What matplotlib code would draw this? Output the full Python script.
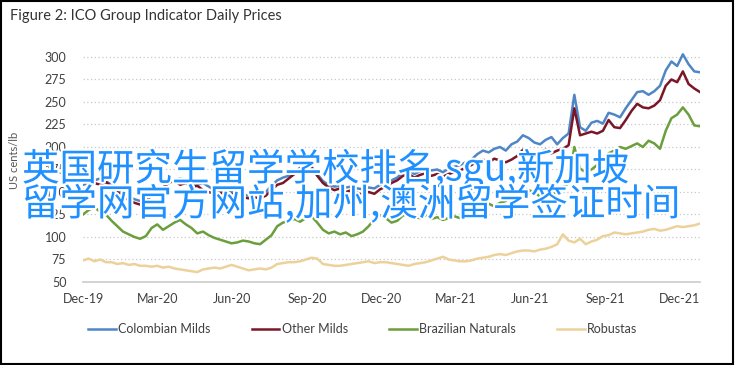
import matplotlib
matplotlib.use("Agg")
import matplotlib.pyplot as plt
import matplotlib.dates as mdates
import matplotlib.patheffects as pe
from matplotlib.patches import Rectangle
import pandas as pd

# weekly readings, Dec-2019 .. Dec-2021 (US cents/lb)
colombian = [158, 160, 163, 165, 162, 158, 152, 148, 145, 142,
             140, 143, 148, 150, 155, 160, 163, 165, 162, 160,
             158, 160, 156, 152, 152, 150, 150, 148, 147, 146,
             148, 147, 150, 157, 163, 166, 168, 172, 177, 180,
             178, 170, 162, 158, 156, 157, 155, 156, 154, 153,
             155, 154, 158, 160, 163, 166, 172, 174, 170, 173,
             176, 174, 175, 172, 176, 178, 180, 183, 186, 192,
             196, 194, 198, 200, 196, 203, 206, 213, 210, 205,
             203, 208, 211, 203, 210, 215, 258, 222, 218, 227,
             229, 226, 238, 236, 233, 243, 252, 261, 262, 258,
             262, 268, 285, 295, 290, 303, 292, 284, 283]
other_milds = [152, 155, 160, 158, 161, 156, 150, 145, 141, 138,
               136, 140, 146, 150, 155, 160, 163, 158, 160, 155,
               157, 152, 150, 148, 149, 147, 148, 145, 144, 143,
               144, 143, 146, 152, 158, 160, 165, 170, 176, 180,
               177, 168, 160, 155, 152, 154, 150, 152, 149, 147,
               150, 148, 153, 156, 160, 163, 168, 170, 166, 169,
               171, 168, 170, 167, 170, 172, 174, 177, 180, 184,
               186, 183, 187, 185, 183, 186, 190, 197, 195, 192,
               194, 197, 193, 196, 198, 202, 243, 213, 215, 217,
               215, 218, 230, 222, 221, 230, 240, 248, 244, 243,
               246, 252, 268, 275, 272, 284, 270, 265, 261]
brazilian = [125, 130, 133, 128, 125, 118, 112, 106, 103, 100,
             98, 101, 110, 114, 108, 112, 116, 119, 114, 110,
             104, 106, 102, 99, 97, 95, 93, 94, 96, 95,
             93, 92, 97, 102, 112, 116, 118, 120, 117, 121,
             123, 116, 108, 104, 106, 103, 105, 101, 103, 106,
             112, 120, 124, 121, 116, 118, 124, 125, 122, 121,
             124, 120, 122, 119, 121, 123, 121, 124, 126, 128,
             135, 137, 134, 138, 140, 146, 150, 154, 152, 150,
             145, 143, 147, 150, 155, 160, 200, 176, 172, 175,
             180, 186, 193, 196, 200, 198, 201, 204, 200, 207,
             204, 198, 218, 232, 236, 244, 236, 224, 223]
robustas = [74, 76, 73, 75, 72, 72, 70, 71, 69, 70,
            68, 68, 67, 68, 66, 67, 65, 64, 63, 62,
            61, 64, 65, 66, 65, 67, 69, 67, 65, 63,
            64, 65, 64, 66, 70, 71, 72, 72, 73, 75,
            77, 76, 70, 69, 68, 68, 69, 70, 71, 72,
            73, 71, 72, 72, 71, 70, 69, 68, 70, 71,
            72, 74, 76, 78, 75, 74, 73, 73, 74, 76,
            77, 78, 80, 81, 80, 82, 84, 85, 85, 84,
            86, 87, 89, 92, 103, 96, 94, 98, 92, 95,
            97, 101, 102, 105, 104, 103, 104, 105, 106, 108,
            109, 107, 108, 110, 112, 111, 112, 113, 115]

dates = pd.date_range("2019-12-01", periods=len(colombian), freq="7D")
tick_dates = pd.to_datetime(["2019-12-01", "2020-03-01", "2020-06-01", "2020-09-01",
                             "2020-12-01", "2021-03-01", "2021-06-01", "2021-09-01",
                             "2021-12-01"])
y_ticks = [50, 75, 100, 125, 150, 175, 200, 225, 250, 275, 300]

overlay_1 = "英国研究生留学学校排名,sgu,新加坡"
overlay_2 = "留学网官方网站,加州,澳洲留学签证时间"

plt.rcParams["font.family"] = ["Lato", "DejaVu Sans"]
txt = "#404040"

fig = plt.figure(figsize=(7.36, 3.65), dpi=100)
ax = fig.add_axes([0.1128, 0.2274, 0.8383, 0.6411])

ax.plot(dates, colombian, color="#4f86c6", lw=1.8, label="Colombian Milds")
ax.plot(dates, other_milds, color="#7a1628", lw=1.8, label="Other Milds")
ax.plot(dates, brazilian, color="#6b9e3c", lw=1.8, label="Brazilian Naturals")
ax.plot(dates, robustas, color="#ecd29a", lw=1.8, label="Robustas")

ax.set_xlim(dates[0], dates[-1])
ax.set_ylim(50, 310)
ax.set_yticks(y_ticks)
ax.set_xticks(tick_dates)
ax.xaxis.set_major_formatter(mdates.DateFormatter("%b-%y"))
ax.tick_params(length=0, labelsize=9, colors=txt)
ax.tick_params(axis="y", pad=12)
ax.tick_params(axis="x", pad=8)

for v in y_ticks[1:]:
    ax.axhline(v, color="#c8c8c8", lw=0.9, ls=(0, (1, 2)), zorder=0)
for s in ["top", "right", "left"]:
    ax.spines[s].set_visible(False)
ax.spines["bottom"].set_color("#d0d0d0")
ax.spines["bottom"].set_linewidth(1.3)
ax.spines["bottom"].set_position(("data", 50))

fig.text(10 / 736, 1 - 16 / 365, "Figure 2: ICO Group Indicator Daily Prices",
         fontsize=10.5, color="#333333", va="center", ha="left")
fig.text(15 / 736, 1 - 160 / 365, "US cents/lb", rotation=90, fontsize=8,
         color="#555555", va="center", ha="center")

fig.legend(loc="center", bbox_to_anchor=(0.493, 0.0986), ncol=4, frameon=False,
           fontsize=9, handlelength=2.2, handletextpad=0.2, columnspacing=3.3,
           labelcolor=txt)

fig.add_artist(Rectangle((0.002, 0.004), 0.994, 0.992, transform=fig.transFigure,
                         fill=False, edgecolor="black", lw=1.5))

stroke = [pe.withStroke(linewidth=3, foreground="white")]
for line, ypix in [(overlay_1, 169), (overlay_2, 205)]:
    fig.text(22 / 736, 1 - ypix / 365, line, fontsize=27, color="#1e90ff",
             family=["Noto Sans CJK SC", "DejaVu Sans"], va="center", ha="left",
             path_effects=stroke, zorder=10)

fig.savefig("out.png", dpi=100)
